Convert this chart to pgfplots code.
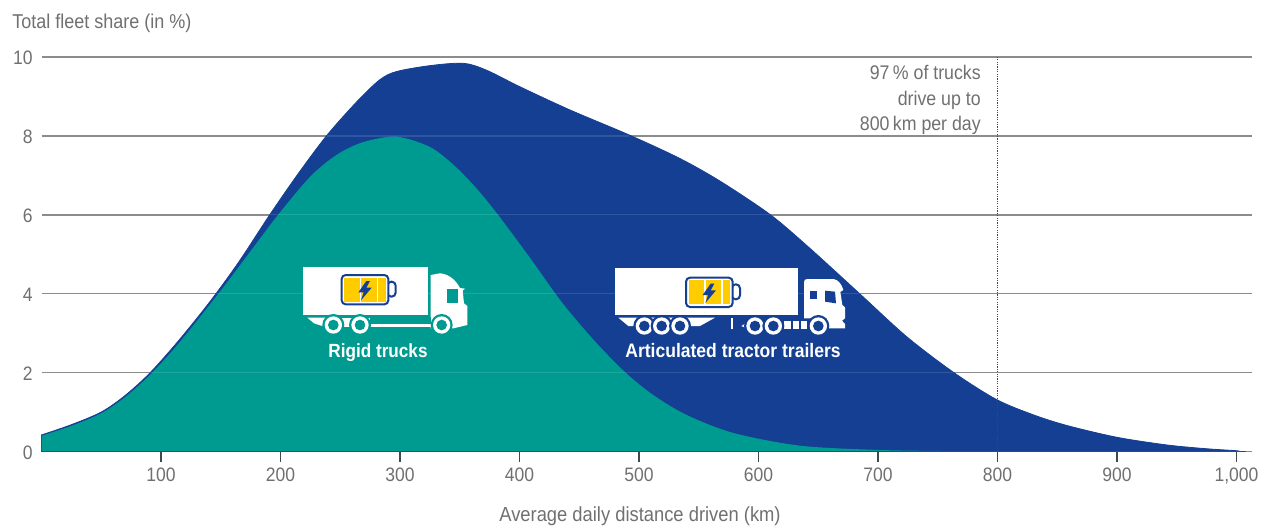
\documentclass[border=0pt]{standalone}
\usepackage{pgfplots}
\pgfplotsset{compat=1.18}
\usepackage{fontspec}
\setmainfont[FakeStretch=0.9]{Liberation Sans}
\definecolor{fleetblue}{HTML}{143F93}
\definecolor{fleetteal}{HTML}{009B90}
\definecolor{gridgray}{HTML}{8C8C8C}
\definecolor{textgray}{HTML}{707070}
\definecolor{axisdark}{HTML}{3F4A50}
\definecolor{battyellow}{HTML}{FFCC00}

% Battery symbol shared by both truck icons
\newcommand{\battery}[2]{% left, top
  \begin{scope}[shift={(#1,#2)}]
    \fill[white,draw=fleetblue,line width=1.5pt,rounded corners=3pt] (137,20) rectangle (162,65);
    \fill[white,draw=fleetblue,line width=1.5pt,rounded corners=3pt] (0,0) rectangle (140,88);
    \fill[battyellow] (8,8) rectangle (132,80);
    \draw[white,line width=0.8pt] (57,8)--(57,80) (108,8)--(108,80);
    \fill[fleetblue] (74,18)--(50,52)--(66,52)--(58,76)--(90,38)--(74,38)--(85,18)--cycle;
  \end{scope}
}
\newcommand{\wheel}[3]{%
  \fill[#3] (#1,#2) circle (33);
  \fill[white] (#1,#2) circle (26);
  \fill[#3] (#1,#2) circle (16);
}

\begin{document}
\begin{tikzpicture}
\path[use as bounding box] (0pt,0pt) rectangle (946.5pt,-393.75pt);
\begin{axis}[
  at={(31.125pt,-338.625pt)}, anchor=south west,
  scale only axis,
  width=907.9pt, height=295.9pt,
  xmin=0, xmax=1013, ymin=0, ymax=10,
  axis y line=none,
  axis x line*=bottom,
  x axis line style={draw=gridgray,line width=1.1pt,-},
  xtick={100,200,300,400,500,600,700,800,900,1000},
  tick align=outside,
  xtick style={draw=axisdark,line width=1pt},
  major tick length=7.5pt,
  xticklabel style={text=textgray,font=\fontsize{14.6}{16}\selectfont,yshift=-1pt},
  /pgf/number format/assume math mode=true,
  /pgf/number format/1000 sep={,},
  clip=false,
]
% horizontal rules
\addplot[gridgray,line width=1.1pt,forget plot] coordinates {(0,2)(1013,2)};
\addplot[gridgray,line width=1.1pt,forget plot] coordinates {(0,4)(1013,4)};
\addplot[gridgray,line width=1.1pt,forget plot] coordinates {(0,6)(1013,6)};
\addplot[gridgray,line width=1.1pt,forget plot] coordinates {(0,8)(1013,8)};
\addplot[gridgray,line width=1.1pt,forget plot] coordinates {(0,10)(1013,10)};
% all trucks
\addplot[fill=fleetblue,draw=fleetblue,line width=0.6pt,smooth,tension=0.5] coordinates {
(0,0.42)(25,0.68)(50,1.00)(70,1.42)(91,2.00)(115,2.82)(141,3.80)(165,4.80)(191,6.00)(215,7.05)(239,8.02)(264,8.87)(283,9.42)(297,9.63)(325,9.78)(353,9.84)(372,9.67)(400,9.25)(442,8.66)(492,8.02)(534,7.43)(568,6.85)(610,6.00)(643,5.15)(685,3.99)(724,2.91)(763,2.01)(799,1.32)(830,0.93)(858,0.66)(900,0.36)(942,0.165)(975,0.07)(1000,0.02)(1002,0)
} \closedcycle;
% rigid trucks
\addplot[fill=fleetteal,draw=none,smooth,tension=0.5] coordinates {
(0,0.40)(25,0.65)(50,0.97)(70,1.38)(91,1.95)(115,2.75)(148,4.00)(173,5.00)(198,6.00)(225,6.97)(247,7.52)(269,7.84)(297,7.98)(325,7.72)(345,7.26)(364,6.67)(382,6.00)(409,4.90)(435,3.80)(462,2.83)(488,2.02)(512,1.43)(540,0.925)(579,0.47)(635,0.147)(700,0.04)(760,0.01)(790,0)
} \closedcycle;
% rules showing faintly through the areas
\addplot[white,opacity=0.12,line width=1pt,forget plot] coordinates {(91,2)(763,2)};
\addplot[white,opacity=0.12,line width=1pt,forget plot] coordinates {(146,4)(685,4)};
\addplot[white,opacity=0.12,line width=1pt,forget plot] coordinates {(191,6)(610,6)};
\addplot[white,opacity=0.12,line width=1pt,forget plot] coordinates {(239,8)(492,8)};
% baseline under the areas
\addplot[axisdark,line width=1.1pt,forget plot] coordinates {(0,0)(1008,0)};
% 800 km marker
\addplot[axisdark,line width=0.8pt,densely dotted,forget plot] coordinates {(800,0)(800,10)};
\end{axis}

\begin{scope}[x=0.75pt,y=-0.75pt]
% value axis labels
\foreach \v/\py in {0/452.5,2/373.6,4/294.7,6/215.8,8/136.9,10/58}
  \node[anchor=east,text=textgray,font=\fontsize{14.6}{16}\selectfont,inner sep=0pt] at (33,\py) {\v};
\node[anchor=base west,text=textgray,font=\fontsize{15}{17}\selectfont,inner sep=0pt] at (12,28) {Total fleet share (in \%)};
\node[anchor=base,text=textgray,font=\fontsize{15.3}{17}\selectfont,inner sep=0pt] at (640,521) {Average daily distance driven (km)};
\node[anchor=base east,text=textgray,font=\fontsize{14.8}{17}\selectfont,inner sep=0pt] at (981,79.3) {97\,\% of trucks};
\node[anchor=base east,text=textgray,font=\fontsize{14.8}{17}\selectfont,inner sep=0pt] at (981,105) {drive up to};
\node[anchor=base east,text=textgray,font=\fontsize{14.8}{17}\selectfont,inner sep=0pt] at (981,130.7) {800\,km per day};
\end{scope}

% rigid truck icon
\begin{scope}[x=0.25pt,y=-0.25pt,shift={(870,750)}]
  \fill[white] (40,50) rectangle (413,195);
  \fill[white] (52,203) -- (110,203) -- (110,232) -- (72,220) -- cycle;
  \fill[white] (100,205) rectangle (430,230);
  \fill[white] (422,75) -- (450,70) .. controls (480,72) and (500,95) .. (510,114) -- (525,116) -- (518,122) -- (522,160) -- (532,168) -- (532,225) -- (490,235) -- (422,235) -- cycle;
  \fill[fleetteal] (470,118) rectangle (505,158);
  \fill[fleetteal] (240,200) rectangle (422,223);
  \wheel{130}{225}{fleetteal}
  \wheel{210}{225}{fleetteal}
  \wheel{455}{225}{fleetteal}
  \battery{155}{75}
\end{scope}
\node[anchor=base,text=white,font=\bfseries\fontsize{14.3}{17}\selectfont,inner sep=0pt] at (283.5pt,-267.75pt) {Rigid trucks};

% articulated truck icon
\begin{scope}[x=0.25pt,y=-0.25pt,shift={(1800,750)}]
  \fill[white] (45,55) rectangle (595,195);
  \fill[white] (55,203) -- (345,203) -- (300,228) -- (85,228) -- cycle;
  \fill[white] (393,205) rectangle (400,238);
  \fill[white] (424,228) -- (440,218) -- (440,235) -- cycle;
  \fill[white] (552,212) rectangle (572,236);
  \fill[white] (578,212) rectangle (596,236);
  \fill[white] (602,212) rectangle (620,236);
  \fill[white] (612,97) .. controls (612,90) and (615,87) .. (622,87) -- (700,87) .. controls (715,88) and (726,105) .. (730,120) -- (721,126) -- (727,165) -- (735,172) -- (735,205) -- (726,212) -- (735,222) -- (735,235) -- (680,235) -- (680,205) -- (612,205) -- cycle;
  \fill[fleetblue] (630,122) rectangle (652,147);
  \fill[fleetblue] (675,122) -- (705,125) -- (708,160) -- (675,155) -- cycle;
  \wheel{133}{228}{fleetblue}
  \wheel{185}{228}{fleetblue}
  \wheel{240}{228}{fleetblue}
  \wheel{465}{228}{fleetblue}
  \wheel{520}{228}{fleetblue}
  \wheel{655}{228}{fleetblue}
  \battery{258}{83}
\end{scope}
\node[anchor=base,text=white,font=\bfseries\fontsize{14.6}{17}\selectfont,inner sep=0pt] at (549.75pt,-267.75pt) {Articulated tractor trailers};
\end{tikzpicture}
\end{document}
